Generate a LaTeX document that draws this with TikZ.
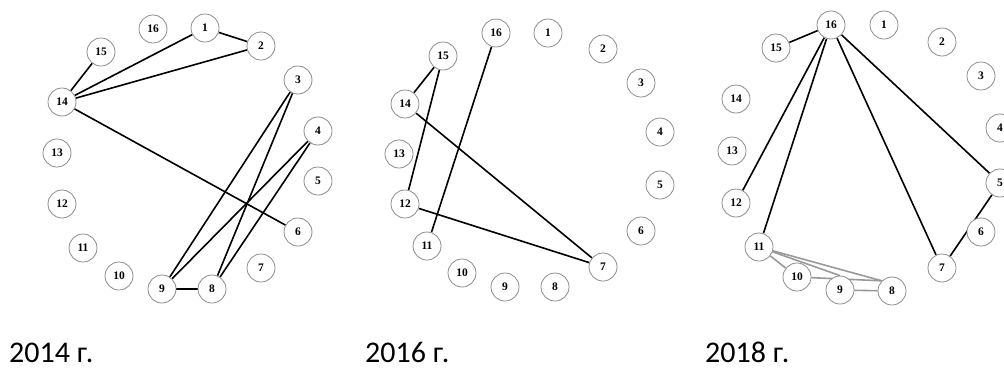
\documentclass[tikz,border=0pt]{standalone}
\usepackage{fontspec}
\usetikzlibrary{backgrounds}
\setmainfont{Liberation Serif}
\newfontfamily\labfont{Carlito}
\begin{document}
\begin{tikzpicture}[x=1pt,y=-1pt,
  vtx/.style={circle,draw=black!45,line width=0.8pt,minimum size=28pt,inner sep=0pt,fill=white,font=\fontsize{11.5}{12}\selectfont\bfseries},
  edge/.style={line width=1.6pt,black},
  gedge/.style={line width=1.6pt,black!40},
  yr/.style={anchor=base west,inner sep=0pt,font=\labfont\fontsize{30}{32}\selectfont}]
\useasboundingbox (0,0) rectangle (1004,368);
% ---------- 2014 ----------
\node[vtx] (a16) at (153,29) {16};
\node[vtx] (a1) at (205,28) {1};
\node[vtx] (a2) at (261,46) {2};
\node[vtx] (a15) at (101,52) {15};
\node[vtx] (a3) at (298,80) {3};
\node[vtx] (a14) at (62,102) {14};
\node[vtx] (a4) at (318,131) {4};
\node[vtx] (a13) at (57,153) {13};
\node[vtx] (a5) at (318,181) {5};
\node[vtx] (a12) at (62,204) {12};
\node[vtx] (a6) at (298,232) {6};
\node[vtx] (a11) at (83,248) {11};
\node[vtx] (a7) at (261,268) {7};
\node[vtx] (a10) at (119,276) {10};
\node[vtx] (a9) at (162,289) {9};
\node[vtx] (a8) at (212,289) {8};
% ---------- 2016 ----------
\node[vtx] (b16) at (496,33) {16};
\node[vtx] (b1) at (548,33) {1};
\node[vtx] (b2) at (603,49) {2};
\node[vtx] (b15) at (443,56) {15};
\node[vtx] (b3) at (641,83) {3};
\node[vtx] (b14) at (405,104) {14};
\node[vtx] (b4) at (660,132) {4};
\node[vtx] (b13) at (399,154) {13};
\node[vtx] (b5) at (660,185) {5};
\node[vtx] (b12) at (405,204) {12};
\node[vtx] (b6) at (641,231) {6};
\node[vtx] (b11) at (427,246) {11};
\node[vtx] (b7) at (603,267) {7};
\node[vtx] (b10) at (462,273) {10};
\node[vtx] (b9) at (505,287) {9};
\node[vtx] (b8) at (555,287) {8};
% ---------- 2018 ----------
\node[vtx] (c16) at (831,25) {16};
\node[vtx] (c1) at (884,25) {1};
\node[vtx] (c2) at (942,42) {2};
\node[vtx] (c15) at (776,48) {15};
\node[vtx] (c3) at (981,76) {3};
\node[vtx] (c14) at (736,99) {14};
\node[vtx] (c4) at (1000,128) {4};
\node[vtx] (c13) at (732,151) {13};
\node[vtx] (c5) at (1000,183) {5};
\node[vtx] (c12) at (736,203) {12};
\node[vtx] (c6) at (981,232) {6};
\node[vtx] (c11) at (759,247) {11};
\node[vtx] (c7) at (942,268) {7};
\node[vtx] (c10) at (797,277) {10};
\node[vtx] (c9) at (840,290) {9};
\node[vtx] (c8) at (892,291) {8};
\begin{pgfonlayer}{background}
\draw[edge] (a1) -- (a2);
\draw[edge] (a14) -- (a15);
\draw[edge] (a14) -- (a1);
\draw[edge] (a14) -- (a2);
\draw[edge] (a14) -- (a6);
\draw[edge] (a3) -- (a9);
\draw[edge] (a3) -- (a8);
\draw[edge] (a4) -- (a9);
\draw[edge] (a4) -- (a8);
\draw[edge] (a9) -- (a8);
\draw[edge] (b15) -- (b14);
\draw[edge] (b15) -- (b12);
\draw[edge] (b16) -- (b11);
\draw[edge] (b14) -- (b7);
\draw[edge] (b12) -- (b7);
\draw[edge] (c16) -- (c15);
\draw[edge] (c16) -- (c12);
\draw[edge] (c16) -- (c11);
\draw[edge] (c16) -- (c7);
\draw[edge] (c16) -- (c5);
\draw[edge] (c5) -- (c7);
\draw[gedge] (c11) -- (c10);
\draw[gedge] (c11) -- (c9.north);
\draw[gedge] (c11) -- (c8.north west);
\draw[gedge] (c10) -- (c8.north west);
\draw[gedge] (c9) -- (c8);
\end{pgfonlayer}
% ---------- labels ----------
\node[yr] (y1) at (9,362) {2014 г.};
\node[yr] (y2) at (365,362) {2016 г.};
\node[yr] (y3) at (705,362) {2018 г.};
\end{tikzpicture}
\end{document}
